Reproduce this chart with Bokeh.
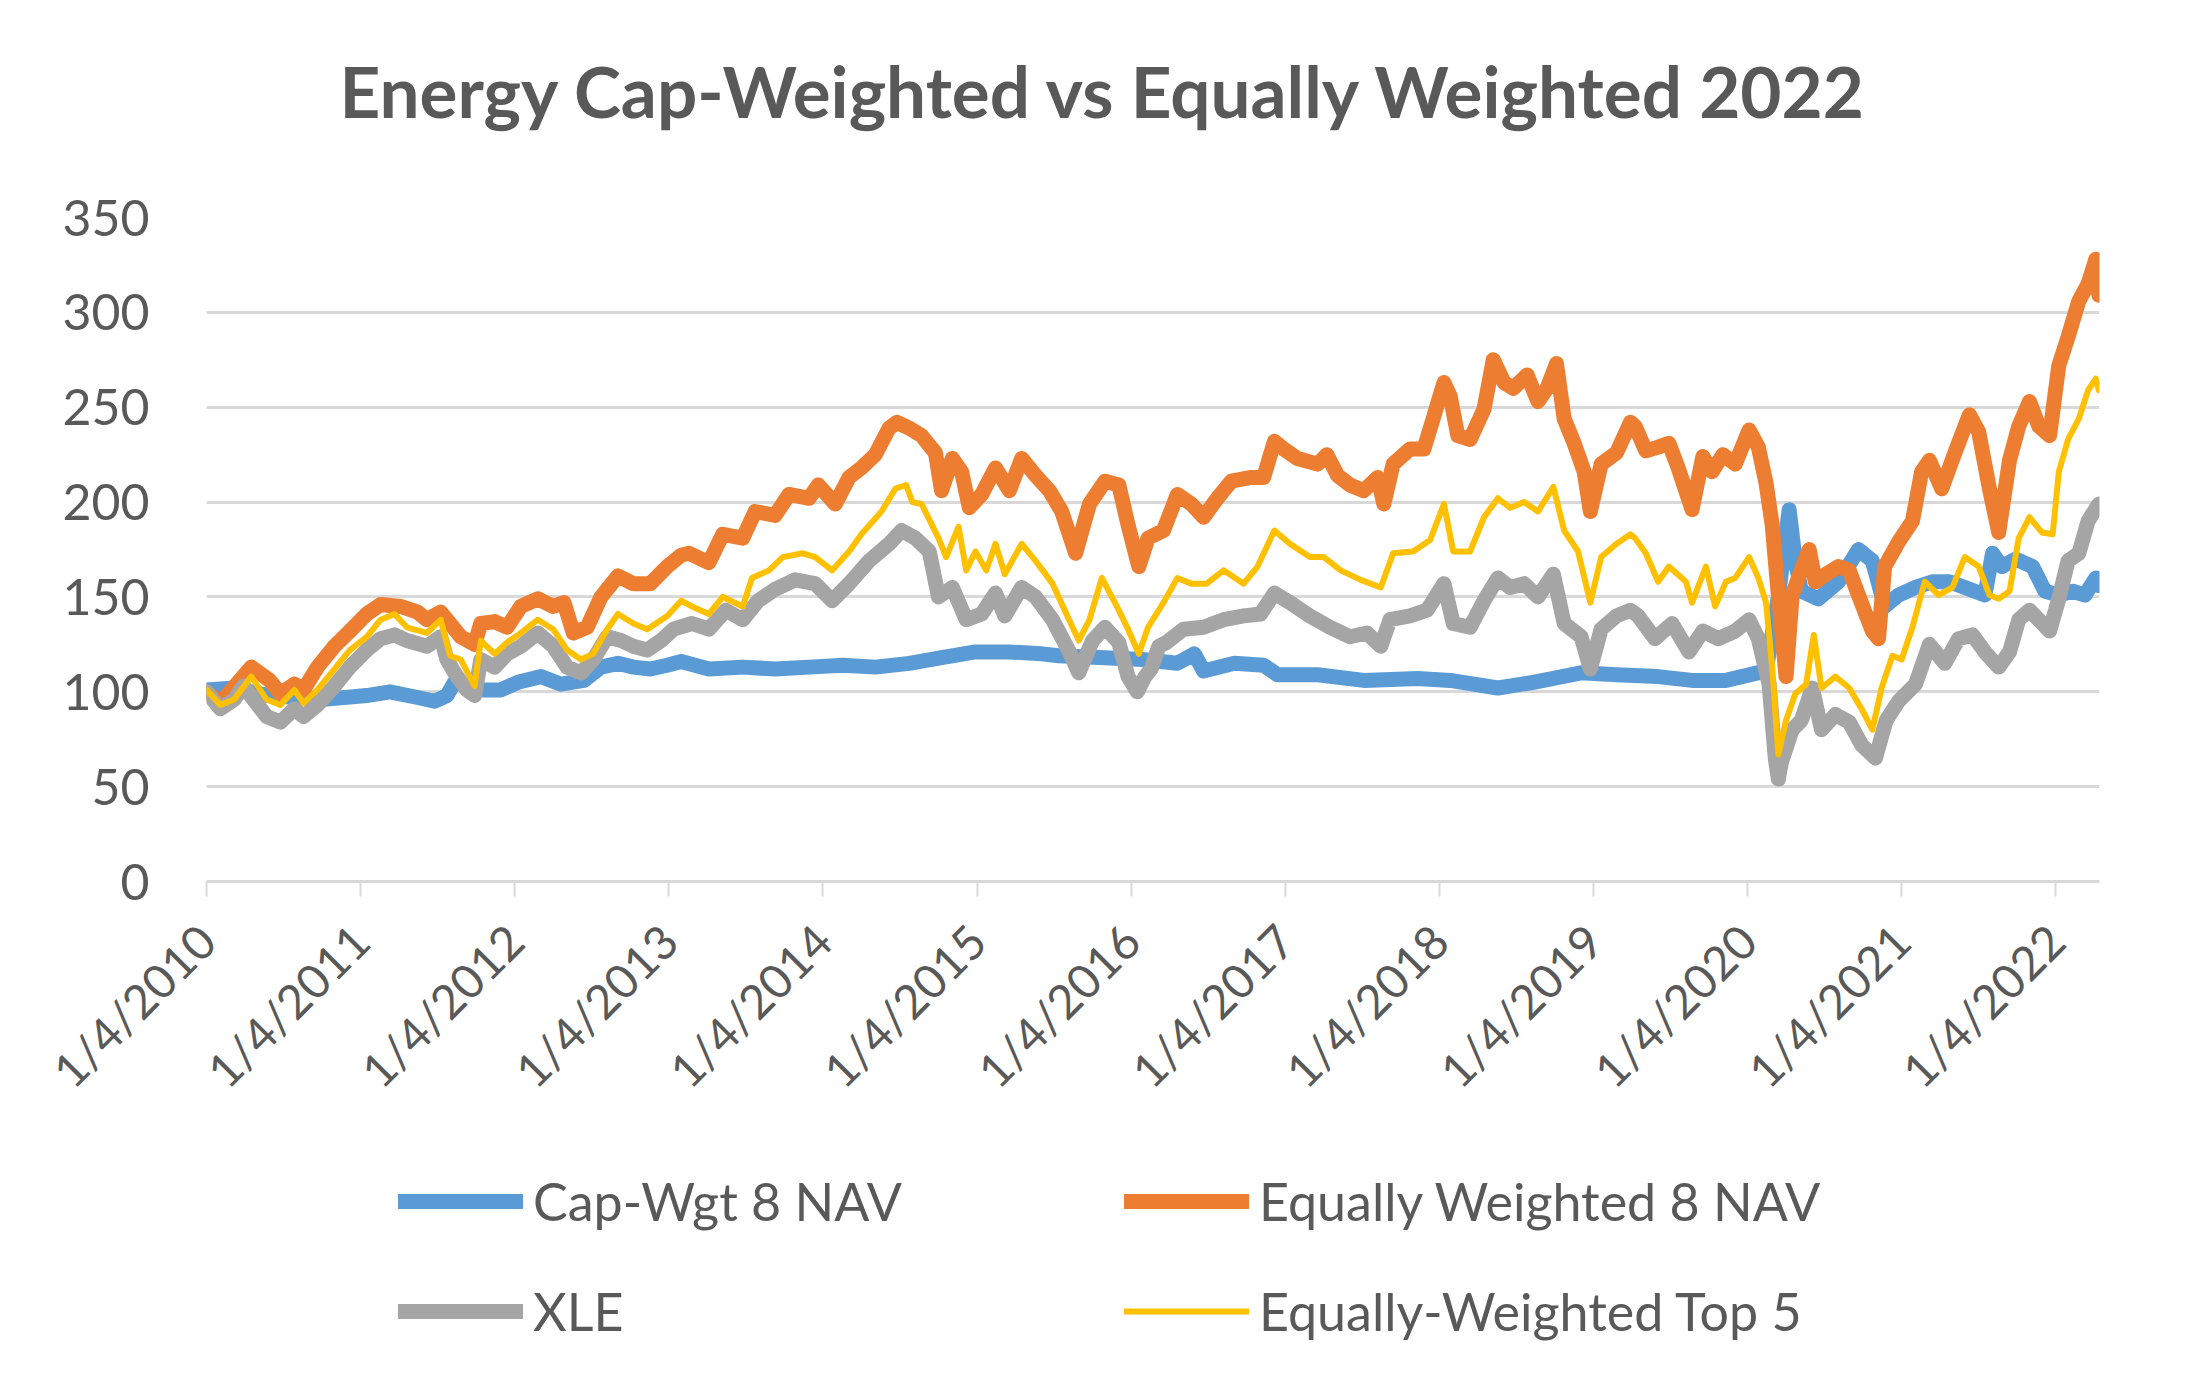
import math
from bokeh.plotting import figure
from bokeh.layouts import column
from bokeh.models import (Range1d, FixedTicker, Legend, LegendItem, Label)
from bokeh.embed import file_html
from bokeh.resources import INLINE

# ---------------- data (x = decimal year; each integer year = 1/4 of that year) -------------
tick_years = [2010, 2011, 2012, 2013, 2014, 2015, 2016, 2017, 2018, 2019, 2020, 2021, 2022]
tick_labels = ["1/4/2010", "1/4/2011", "1/4/2012", "1/4/2013", "1/4/2014", "1/4/2015",
               "1/4/2016", "1/4/2017", "1/4/2018", "1/4/2019", "1/4/2020", "1/4/2021",
               "1/4/2022"]
y_ticks = [0, 50, 100, 150, 200, 250, 300, 350]

cap_years = [2010.00, 2010.18, 2010.40, 2010.76, 2011.04, 2011.19, 2011.37, 2011.48, 2011.56,
             2011.61, 2011.80, 2011.91, 2012.02, 2012.17, 2012.30, 2012.45, 2012.56, 2012.67,
             2012.77, 2012.88, 2012.99, 2013.08, 2013.26, 2013.48, 2013.69, 2013.91, 2014.13,
             2014.34, 2014.56, 2014.77, 2014.99, 2015.21, 2015.42, 2015.53, 2015.83, 2016.07,
             2016.30, 2016.41, 2016.47, 2016.67, 2016.86, 2016.95, 2017.21, 2017.51, 2017.86,
             2018.07, 2018.38, 2018.61, 2018.92, 2019.15, 2019.42, 2019.64, 2019.86, 2020.12,
             2020.20, 2020.27, 2020.31, 2020.35, 2020.46, 2020.59, 2020.72, 2020.81, 2020.89,
             2020.98, 2021.09, 2021.20, 2021.31, 2021.41, 2021.54, 2021.59, 2021.65, 2021.74,
             2021.85, 2021.93, 2022.02, 2022.11, 2022.19, 2022.26, 2022.28]
cap_wgt = [101, 102, 98, 96, 98, 100, 97, 95, 98,
           105, 101, 101, 105, 108, 104, 106, 113, 115,
           113, 112, 114, 116, 112, 113, 112, 113, 114,
           113, 115, 118, 121, 121, 120, 119, 118, 117,
           115, 120, 111, 115, 114, 109, 109, 106, 107,
           106, 102, 105, 110, 109, 108, 106, 106, 111,
           150, 196, 169, 153, 149, 158, 175, 169, 145,
           151, 155, 158, 158, 155, 151, 173, 166, 170,
           166, 153, 151, 153, 151, 160, 156]

eq8_years = [2010.00, 2010.09, 2010.29, 2010.41, 2010.48, 2010.57, 2010.63, 2010.72, 2010.83,
             2010.93, 2011.04, 2011.13, 2011.26, 2011.37, 2011.43, 2011.52, 2011.58, 2011.65,
             2011.74, 2011.78, 2011.87, 2011.95, 2012.04, 2012.15, 2012.25, 2012.32, 2012.38,
             2012.47, 2012.56, 2012.67, 2012.77, 2012.88, 2012.99, 2013.08, 2013.13, 2013.26,
             2013.35, 2013.48, 2013.56, 2013.69, 2013.78, 2013.91, 2013.97, 2014.08, 2014.17,
             2014.25, 2014.34, 2014.43, 2014.48, 2014.56, 2014.64, 2014.73, 2014.77, 2014.84,
             2014.90, 2014.95, 2015.03, 2015.12, 2015.21, 2015.29, 2015.38, 2015.47, 2015.55,
             2015.64, 2015.73, 2015.83, 2015.92, 2015.98, 2016.05, 2016.11, 2016.21, 2016.30,
             2016.39, 2016.47, 2016.56, 2016.65, 2016.78, 2016.86, 2016.93, 2016.99, 2017.08,
             2017.21, 2017.27, 2017.34, 2017.42, 2017.51, 2017.60, 2017.64, 2017.70, 2017.81,
             2017.90, 2017.96, 2018.03, 2018.07, 2018.12, 2018.20, 2018.29, 2018.35, 2018.42,
             2018.48, 2018.57, 2018.64, 2018.70, 2018.76, 2018.81, 2018.87, 2018.94, 2018.98,
             2019.05, 2019.15, 2019.24, 2019.27, 2019.34, 2019.42, 2019.49, 2019.55, 2019.64,
             2019.71, 2019.77, 2019.84, 2019.92, 2020.01, 2020.07, 2020.12, 2020.16, 2020.20,
             2020.25, 2020.29, 2020.33, 2020.40, 2020.44, 2020.51, 2020.59, 2020.66, 2020.72,
             2020.81, 2020.85, 2020.89, 2020.98, 2021.07, 2021.13, 2021.18, 2021.26, 2021.35,
             2021.44, 2021.50, 2021.57, 2021.63, 2021.70, 2021.76, 2021.83, 2021.89, 2021.96,
             2022.02, 2022.08, 2022.15, 2022.21, 2022.26, 2022.28]
eq_wgt8 = [100, 94, 113, 106, 99, 104, 101, 113, 124,
           132, 141, 146, 145, 142, 138, 142, 136, 129,
           125, 136, 137, 134, 145, 149, 145, 147, 131,
           134, 150, 161, 157, 157, 166, 172, 173, 168,
           183, 181, 195, 193, 204, 202, 209, 199, 213,
           218, 225, 239, 242, 239, 235, 226, 206, 223,
           216, 197, 204, 218, 206, 223, 214, 206, 195,
           173, 199, 211, 209, 188, 166, 181, 185, 204,
           199, 192, 202, 211, 213, 213, 232, 228, 223,
           220, 225, 214, 209, 206, 213, 199, 220, 228,
           228, 244, 263, 256, 235, 233, 249, 275, 263,
           260, 267, 253, 260, 273, 244, 232, 216, 195,
           220, 226, 242, 240, 227, 229, 231, 218, 196,
           224, 216, 225, 220, 238, 229, 210, 188, 151,
           108, 151, 160, 175, 158, 162, 166, 164, 151,
           132, 128, 166, 179, 190, 216, 222, 207, 227,
           246, 237, 207, 184, 222, 240, 253, 240, 235,
           272, 287, 306, 315, 328, 309]

xle_years = [2010.00, 2010.09, 2010.18, 2010.24, 2010.39, 2010.48, 2010.57, 2010.63, 2010.72,
             2010.83, 2010.93, 2011.04, 2011.13, 2011.22, 2011.30, 2011.43, 2011.52, 2011.56,
             2011.61, 2011.69, 2011.74, 2011.78, 2011.87, 2011.95, 2012.04, 2012.15, 2012.25,
             2012.34, 2012.43, 2012.51, 2012.60, 2012.69, 2012.77, 2012.86, 2012.95, 2013.03,
             2013.15, 2013.26, 2013.37, 2013.48, 2013.58, 2013.69, 2013.82, 2013.95, 2014.06,
             2014.17, 2014.30, 2014.43, 2014.51, 2014.60, 2014.69, 2014.75, 2014.84, 2014.93,
             2015.03, 2015.12, 2015.18, 2015.29, 2015.38, 2015.49, 2015.60, 2015.66, 2015.75,
             2015.83, 2015.92, 2015.98, 2016.04, 2016.09, 2016.13, 2016.18, 2016.23, 2016.34,
             2016.47, 2016.60, 2016.73, 2016.84, 2016.93, 2017.03, 2017.16, 2017.29, 2017.42,
             2017.53, 2017.62, 2017.68, 2017.81, 2017.92, 2018.03, 2018.09, 2018.20, 2018.29,
             2018.38, 2018.46, 2018.55, 2018.64, 2018.74, 2018.81, 2018.92, 2018.98, 2019.05,
             2019.15, 2019.24, 2019.29, 2019.40, 2019.51, 2019.62, 2019.71, 2019.81, 2019.92,
             2020.01, 2020.07, 2020.14, 2020.18, 2020.20, 2020.22, 2020.29, 2020.35, 2020.42,
             2020.48, 2020.57, 2020.66, 2020.74, 2020.83, 2020.90, 2020.98, 2021.09, 2021.18,
             2021.28, 2021.37, 2021.46, 2021.54, 2021.63, 2021.70, 2021.76, 2021.83, 2021.89,
             2021.96, 2022.02, 2022.08, 2022.15, 2022.21, 2022.28]
xle = [100, 91, 96, 103, 87, 84, 91, 87, 93,
       103, 113, 122, 128, 130, 127, 124, 129, 117,
       110, 101, 98, 117, 113, 120, 124, 131, 124,
       113, 110, 117, 129, 127, 124, 122, 127, 133,
       136, 133, 143, 138, 148, 154, 159, 157, 148,
       157, 169, 178, 185, 181, 174, 150, 155, 138,
       141, 152, 140, 155, 150, 138, 121, 110, 127,
       134, 126, 108, 100, 108, 112, 124, 126, 133,
       134, 138, 140, 141, 152, 147, 140, 134, 129,
       131, 124, 138, 140, 143, 157, 136, 134, 148,
       160, 155, 157, 150, 162, 136, 129, 112, 133,
       140, 143, 140, 128, 136, 121, 132, 128, 132,
       138, 128, 104, 65, 54, 63, 80, 85, 102,
       80, 88, 84, 72, 65, 85, 95, 104, 125,
       115, 128, 130, 121, 113, 121, 138, 143, 138,
       132, 149, 169, 173, 190, 199]

top5_years = [2010.00, 2010.09, 2010.18, 2010.29, 2010.39, 2010.48, 2010.57, 2010.63, 2010.72,
              2010.83, 2010.93, 2011.04, 2011.13, 2011.22, 2011.30, 2011.43, 2011.52, 2011.58,
              2011.65, 2011.74, 2011.78, 2011.87, 2011.95, 2012.04, 2012.15, 2012.25, 2012.34,
              2012.43, 2012.51, 2012.60, 2012.67, 2012.77, 2012.86, 2012.99, 2013.08, 2013.15,
              2013.26, 2013.35, 2013.48, 2013.54, 2013.65, 2013.74, 2013.87, 2013.95, 2014.06,
              2014.17, 2014.25, 2014.38, 2014.47, 2014.54, 2014.58, 2014.64, 2014.75, 2014.80,
              2014.88, 2014.93, 2014.99, 2015.06, 2015.12, 2015.18, 2015.29, 2015.38, 2015.49,
              2015.62, 2015.66, 2015.73, 2015.81, 2015.92, 2015.98, 2016.05, 2016.11, 2016.21,
              2016.30, 2016.39, 2016.49, 2016.60, 2016.73, 2016.82, 2016.93, 2017.03, 2017.16,
              2017.25, 2017.36, 2017.49, 2017.62, 2017.70, 2017.83, 2017.94, 2018.03, 2018.09,
              2018.20, 2018.29, 2018.38, 2018.46, 2018.55, 2018.64, 2018.74, 2018.81, 2018.90,
              2018.98, 2019.05, 2019.15, 2019.24, 2019.27, 2019.34, 2019.42, 2019.49, 2019.60,
              2019.64, 2019.73, 2019.79, 2019.86, 2019.92, 2020.01, 2020.07, 2020.12, 2020.16,
              2020.20, 2020.25, 2020.31, 2020.38, 2020.43, 2020.48, 2020.57, 2020.66, 2020.74,
              2020.81, 2020.87, 2020.94, 2021.00, 2021.07, 2021.15, 2021.24, 2021.33, 2021.41,
              2021.50, 2021.57, 2021.63, 2021.70, 2021.76, 2021.83, 2021.91, 2021.98, 2022.02,
              2022.08, 2022.15, 2022.21, 2022.26, 2022.28]
eq_top5 = [101, 93, 96, 108, 96, 93, 101, 94, 101,
           112, 122, 129, 138, 141, 134, 131, 138, 119,
           117, 103, 127, 120, 126, 131, 138, 133, 122,
           117, 120, 133, 141, 136, 133, 140, 148, 145,
           141, 150, 145, 160, 164, 171, 173, 171, 164,
           174, 183, 195, 207, 209, 200, 199, 181, 171,
           187, 164, 174, 164, 178, 162, 178, 169, 157,
           134, 127, 138, 160, 143, 133, 120, 134, 147,
           160, 157, 157, 164, 157, 166, 185, 178, 171,
           171, 164, 159, 155, 173, 174, 180, 199, 174,
           174, 192, 202, 197, 200, 195, 208, 185, 174,
           147, 171, 178, 183, 181, 173, 158, 166, 158,
           147, 166, 145, 158, 160, 171, 160, 147, 113,
           67, 85, 99, 104, 130, 102, 108, 102, 91,
           80, 102, 119, 117, 134, 158, 151, 155, 171,
           166, 151, 149, 153, 181, 192, 184, 183, 216,
           233, 244, 259, 265, 259]

title_text = "Energy Cap-Weighted vs Equally Weighted 2022"
series_names = ["Cap-Wgt 8 NAV", "Equally Weighted 8 NAV", "XLE", "Equally-Weighted Top 5"]
series_colors = ["#5B9BD5", "#ED7D31", "#A5A5A5", "#FFC000"]
series_widths = [15, 15, 15, 6]

TEXT = "#595959"
GRID = "#D9D9D9"
FONT = "Lato"
W = 2200
LEFT, RIGHT = 206, 2099          # plot-area edges (page pixels)
TOP, BOTTOM = 217, 888
BTOP = 30                        # common top border of the three strips


def blank_fig(height, yr):
    f = figure(width=W, height=height, output_backend="svg", toolbar_location=None,
               x_range=Range1d(LEFT, RIGHT), y_range=yr, x_axis_type=None, y_axis_type=None,
               min_border_left=LEFT, min_border_right=W - RIGHT, min_border_top=BTOP,
               min_border_bottom=0)
    f.outline_line_color = None
    f.grid.visible = False
    f.background_fill_color = "white"
    f.border_fill_color = "white"
    return f


# ---------- title strip ----------
TH = TOP - BTOP
pt = blank_fig(TH, Range1d(0, TH - BTOP))
pt.add_layout(Label(x=1104, y=TH - 117 + 27, text=title_text, text_font=FONT,
                    text_font_style="bold", text_font_size="71px", text_color=TEXT,
                    text_align="center", text_baseline="alphabetic"))

# ---------- main chart ----------
LEG_TOP = 1120
MH = LEG_TOP - TH
p = figure(width=W, height=MH, output_backend="svg", toolbar_location=None,
           x_range=Range1d(2010.0, 2022.284), y_range=Range1d(0, 350),
           min_border_left=LEFT, min_border_right=W - RIGHT, min_border_top=BTOP,
           min_border_bottom=LEG_TOP - BOTTOM)
p.outline_line_color = None
p.background_fill_color = "white"
p.border_fill_color = "white"

p.xaxis.ticker = FixedTicker(ticks=tick_years)
p.xaxis.major_label_overrides = {y: l for y, l in zip(tick_years, tick_labels)}
p.xaxis.major_label_orientation = math.pi / 4
p.xaxis.axis_line_color = GRID
p.xaxis.axis_line_width = 3
p.xaxis.major_tick_line_color = GRID
p.xaxis.major_tick_line_width = 2
p.xaxis.major_tick_out = 15
p.xaxis.major_tick_in = 0
p.xaxis.minor_tick_line_color = None
p.xaxis.major_label_text_font = FONT
p.xaxis.major_label_text_font_size = "47px"
p.xaxis.major_label_text_color = TEXT
p.xaxis.major_label_standoff = 36

p.yaxis.ticker = FixedTicker(ticks=y_ticks)
p.yaxis.axis_line_color = None
p.yaxis.major_tick_line_color = None
p.yaxis.minor_tick_line_color = None
p.yaxis.major_tick_out = 0
p.yaxis.major_tick_in = 0
p.yaxis.major_label_text_font = FONT
p.yaxis.major_label_text_font_size = "50px"
p.yaxis.major_label_text_color = TEXT
p.yaxis.major_label_standoff = 57

p.xgrid.grid_line_color = None
p.ygrid.ticker = FixedTicker(ticks=y_ticks)
p.ygrid.grid_line_color = GRID
p.ygrid.grid_line_width = 3

xs = [cap_years, eq8_years, xle_years, top5_years]
ys = [cap_wgt, eq_wgt8, xle, eq_top5]
for x, y, c, w in zip(xs, ys, series_colors, series_widths):
    p.line(x, y, line_color=c, line_width=w, line_join="round", line_cap="round")

# ---------- legend strip ----------
LH = 1385 - LEG_TOP
pl = blank_fig(LH, Range1d(0, LH - BTOP))
# legend-only renderers (first point of each series, outside the strip's range)
leg_r = [pl.line([x[0]], [y[0]], line_color=c, line_width=w, line_cap="round")
         for x, y, c, w in zip(xs, ys, series_colors, series_widths)]
legend = Legend(items=[LegendItem(label=n, renderers=[r]) for n, r in zip(series_names, leg_r)],
                location=(398 - LEFT, 27), orientation="horizontal", ncols=2)
legend.label_text_font = FONT
legend.label_text_font_size = "52px"
legend.label_text_color = TEXT
legend.glyph_width = 125
legend.glyph_height = 94
legend.label_height = 94
legend.label_width = 575
legend.label_standoff = 10
legend.spacing = 16
legend.padding = 0
legend.margin = 0
legend.border_line_color = None
legend.background_fill_alpha = 0
pl.add_layout(legend)

layout = column(pt, p, pl, spacing=0)
open("out.html", "w").write(file_html(layout, INLINE))
